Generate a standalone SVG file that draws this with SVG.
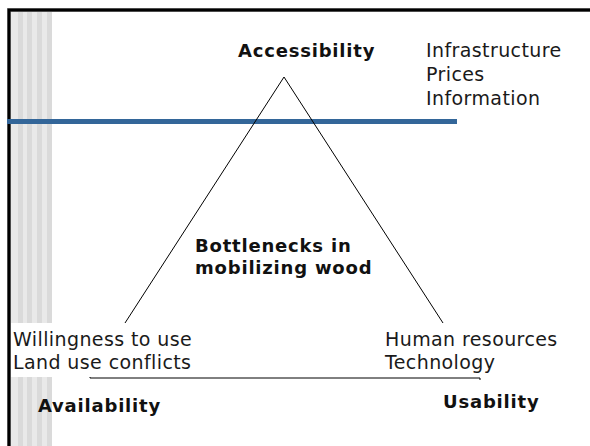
<svg xmlns="http://www.w3.org/2000/svg" width="590" height="446" viewBox="0 0 590 446">
<style>
.t{font-family:"DejaVu Sans","Liberation Sans",sans-serif;font-size:19px;letter-spacing:0.4px;fill:#1a1a1a}
.b{font-family:"DejaVu Sans","Liberation Sans",sans-serif;font-size:18px;letter-spacing:0.8px;font-weight:bold;fill:#111}
.ln{stroke:#000;stroke-width:1;fill:none}
</style>
<rect x="0" y="0" width="590" height="446" fill="#fff"/>
<g id="stripes">
<rect x="10" y="11" width="42" height="435" fill="#e9e9e9"/>
<rect x="18" y="11" width="5" height="435" fill="#dadada"/>
<rect x="27" y="11" width="5" height="435" fill="#dadada"/>
<rect x="37" y="11" width="5" height="435" fill="#dadada"/>
<rect x="47" y="11" width="5" height="435" fill="#dadada"/>
</g>
<g id="frame">
<path d="M9 450 V10 H600" stroke="#999" stroke-width="4" fill="none"/>
<path d="M9 450 V10 H600" stroke="#000" stroke-width="3" fill="none"/>
</g>
<rect id="bar" x="7" y="119" width="450" height="5" fill="#336699"/>
<g id="connectors">
<path class="ln" d="M125 323 L284 77 L443 323"/>
<path class="ln" d="M90 376 L90 378 H480 V380"/>
</g>
<g id="accessibility">
<text class="b" x="238" y="57">Accessibility</text>
</g>
<g id="access-factors">
<text class="t" x="426" y="57">Infrastructure</text>
<text class="t" x="426" y="81">Prices</text>
<text class="t" x="426" y="105">Information</text>
</g>
<g id="center">
<text class="b" x="195" y="252">Bottlenecks in</text>
<text class="b" x="195" y="274">mobilizing wood</text>
</g>
<g id="avail-factors">
<rect x="11" y="323" width="182" height="54" fill="#fff"/>
<text class="t" x="13" y="346">Willingness to use</text>
<text class="t" x="13" y="369">Land use conflicts</text>
</g>
<g id="usab-factors">
<text class="t" x="385" y="346">Human resources</text>
<text class="t" x="385" y="369">Technology</text>
</g>
<g id="availability">
<text class="b" x="38" y="412">Availability</text>
</g>
<g id="usability">
<text class="b" x="443" y="408">Usability</text>
</g>
</svg>
